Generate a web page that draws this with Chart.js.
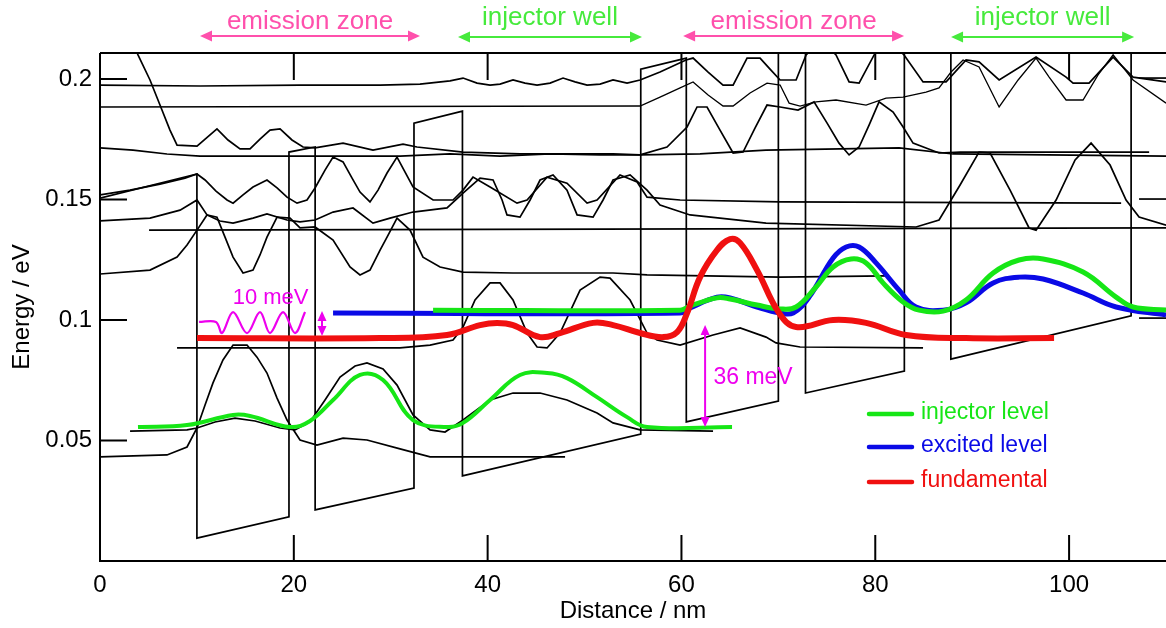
<!DOCTYPE html>
<html>
<head>
<meta charset="utf-8">
<title>Band diagram</title>
<script src="https://cdn.jsdelivr.net/npm/chart.js@4.4.1/dist/chart.umd.min.js"></script>
<style>
  html, body { margin: 0; padding: 0; background: #fff; }
  #wrap { width: 1166px; height: 628px; }
</style>
</head>
<body>
<div id="wrap"><canvas id="band" width="1166" height="628"></canvas></div>
<script>
// ── AXES ──
const X_MIN = 0, X_MAX = 110;
const Y_MIN = 0, Y_MAX = 0.2108;
const xTicks = [0, 20, 40, 60, 80, 100];
const yTicks = [0.05, 0.1, 0.15, 0.2];

// ── CONDUCTION BAND EDGE (nm, eV) ──
const bandEdge = [
  [0, 0.1506], [10.0, 0.1606], [10.0, 0.0095], [19.5, 0.0183], [19.5, 0.1697],
  [22.2, 0.1718], [22.2, 0.0212], [32.4, 0.0303], [32.4, 0.1817], [37.4, 0.1867],
  [37.4, 0.0353], [55.8, 0.0527], [55.8, 0.2041], [60.5, 0.2087], [60.5, 0.0577],
  [70.0, 0.0664], [70.0, 0.2174], [72.8, 0.2200], [72.8, 0.0697], [83.0, 0.0788],
  [83.0, 0.2298], [87.8, 0.2318], [87.8, 0.0838], [106.4, 0.1017], [106.4, 0.2527],
  [110, 0.2560]
];

// ── OTHER SUBBANDS (black) ──
const level197 = [
  [0, 0.1975], [10.32, 0.1971], [20.64, 0.1975], [28.90, 0.1975], [33.02, 0.1979],
  [36.12, 0.1992], [37.46, 0.2004], [38.91, 0.1983], [40.25, 0.1975], [41.28, 0.1979],
  [42.62, 0.1996], [43.86, 0.1983], [45.10, 0.1975], [46.44, 0.1983], [47.78, 0.2004],
  [49.02, 0.1988], [50.26, 0.1975], [51.60, 0.1979], [52.94, 0.1996], [54.39, 0.1983],
  [55.73, 0.1996], [57.79, 0.2029], [60.47, 0.2079], [61.20, 0.2087], [62.75, 0.2029],
  [64.29, 0.1975], [65.33, 0.1975], [66.77, 0.2087], [68.11, 0.2087], [69.14, 0.2041],
  [70.18, 0.1996], [71.83, 0.1996], [72.86, 0.2100], [74.41, 0.2162], [75.95, 0.2100],
  [77.30, 0.1988], [78.33, 0.1983], [79.88, 0.2100], [81.42, 0.2162], [82.97, 0.2100],
  [84.93, 0.1988], [87.31, 0.1988], [89.37, 0.2079], [90.71, 0.2071], [92.78, 0.1996],
  [96.59, 0.2091], [99.69, 0.2008], [100.41, 0.1983], [102.06, 0.1983], [104.54, 0.2091],
  [106.60, 0.2008], [110.01, 0.1988]
];
const level189 = [
  [0, 0.1884], [55.73, 0.1888], [57.79, 0.1925], [59.86, 0.1963], [61.20, 0.1988],
  [62.75, 0.1934], [64.29, 0.1888], [65.33, 0.1888], [67.08, 0.1942], [68.83, 0.1983],
  [70.18, 0.1975], [71.11, 0.1900], [72.24, 0.1888], [73.89, 0.1905], [75.95, 0.1913],
  [79.05, 0.1892], [81.11, 0.1921], [82.87, 0.1925], [85.24, 0.1946], [86.58, 0.1963],
  [87.82, 0.2029], [89.06, 0.2079], [90.71, 0.2050], [92.78, 0.1884], [94.74, 0.1996],
  [96.59, 0.2087], [97.94, 0.2008], [99.69, 0.1913], [101.44, 0.1913], [102.99, 0.2017],
  [104.54, 0.2100], [106.60, 0.1996], [110.01, 0.1900]
];
const level170 = [
  [3.51, 0.2141], [3.92, 0.2100], [5.16, 0.1996], [6.19, 0.1892], [7.22, 0.1788],
  [7.95, 0.1726], [10.01, 0.1722], [12.07, 0.1793], [13.21, 0.1747], [14.45, 0.1710],
  [15.48, 0.1710], [16.51, 0.1751], [17.54, 0.1788], [18.58, 0.1793], [19.81, 0.1747],
  [20.95, 0.1718], [22.19, 0.1714], [25.08, 0.1734], [28.17, 0.1705], [31.27, 0.1730],
  [32.71, 0.1718], [37.46, 0.1697], [43.34, 0.1689], [52.94, 0.1689], [55.73, 0.1685],
  [58.51, 0.1718], [60.58, 0.1801], [61.61, 0.1884], [62.64, 0.1884], [63.98, 0.1788],
  [65.33, 0.1693], [66.36, 0.1697], [67.60, 0.1797], [68.83, 0.1892], [70.18, 0.1884],
  [72.03, 0.1871], [73.68, 0.1905], [75.03, 0.1817], [76.26, 0.1734], [77.30, 0.1685],
  [78.33, 0.1718], [79.36, 0.1809], [80.39, 0.1905], [81.84, 0.1863], [82.87, 0.1801],
  [83.90, 0.1734], [86.58, 0.1693], [88.75, 0.1697], [108.26, 0.1697]
];
const level168 = [
  [0, 0.1714], [3.41, 0.1705], [6.91, 0.1689], [10.32, 0.1680], [20.64, 0.1680],
  [30.96, 0.1680], [36.12, 0.1689], [41.28, 0.1680], [46.44, 0.1689], [51.60, 0.1685],
  [55.73, 0.1685], [61.92, 0.1689], [68.73, 0.1705], [82.46, 0.1714], [88.03, 0.1689],
  [110.01, 0.1680]
];
const level149 = [
  [0, 0.1519], [3.10, 0.1539], [6.19, 0.1564], [8.77, 0.1589], [10.01, 0.1606],
  [10.84, 0.1581], [11.97, 0.1535], [13.11, 0.1498], [13.73, 0.1485], [14.76, 0.1519],
  [15.79, 0.1552], [17.23, 0.1581], [18.27, 0.1548], [19.30, 0.1510], [20.33, 0.1485],
  [21.36, 0.1498], [22.19, 0.1548], [23.22, 0.1622], [24.05, 0.1676], [25.08, 0.1656],
  [26.01, 0.1589], [26.83, 0.1531], [27.86, 0.1490], [28.69, 0.1539], [29.62, 0.1610],
  [30.65, 0.1676], [31.48, 0.1614], [32.30, 0.1552], [34.37, 0.1498], [36.43, 0.1498],
  [37.46, 0.1539], [38.49, 0.1593], [40.25, 0.1552], [43.03, 0.1485], [44.07, 0.1498],
  [46.13, 0.1593], [48.19, 0.1568], [50.26, 0.1485], [51.29, 0.1498], [53.66, 0.1602],
  [55.42, 0.1573], [56.45, 0.1510], [59.86, 0.1498], [70.18, 0.1490], [105.37, 0.1485]
];
const level140 = [
  [0, 0.1411], [5.16, 0.1423], [8.26, 0.1456], [10.01, 0.1498], [11.04, 0.1436],
  [12.38, 0.1411], [13.73, 0.1402], [15.79, 0.1423], [17.23, 0.1440], [19.30, 0.1415],
  [20.64, 0.1407], [22.19, 0.1415], [24.05, 0.1448], [26.11, 0.1465], [28.17, 0.1402],
  [29.93, 0.1423], [32.30, 0.1448], [35.81, 0.1465], [37.46, 0.1527], [39.22, 0.1589],
  [40.56, 0.1581], [41.49, 0.1498], [42.00, 0.1436], [43.34, 0.1427], [44.38, 0.1498],
  [45.41, 0.1581], [46.75, 0.1602], [48.19, 0.1539], [49.23, 0.1436], [50.88, 0.1427],
  [51.91, 0.1498], [52.94, 0.1581], [54.70, 0.1602], [56.45, 0.1539], [57.79, 0.1477],
  [60.89, 0.1436], [68.73, 0.1402], [84.21, 0.1386], [86.58, 0.1415], [88.75, 0.1560],
  [90.71, 0.1697], [91.85, 0.1693], [93.91, 0.1539], [95.87, 0.1382], [96.59, 0.1373],
  [98.66, 0.1498], [100.62, 0.1664], [102.27, 0.1734], [104.23, 0.1643], [105.88, 0.1498],
  [107.22, 0.1427], [110.01, 0.1394]
];
const level137 = [[5.06, 0.1373], [110.01, 0.1382]];
const level119 = [
  [0, 0.1191], [5.16, 0.1207], [7.95, 0.1261], [8.98, 0.1311], [10.01, 0.1373],
  [11.04, 0.1436], [12.07, 0.1427], [12.90, 0.1344], [13.73, 0.1261], [14.76, 0.1195],
  [15.79, 0.1207], [16.51, 0.1270], [17.23, 0.1344], [18.27, 0.1427], [19.61, 0.1423],
  [20.64, 0.1382], [22.19, 0.1386], [24.05, 0.1332], [25.80, 0.1220], [26.83, 0.1187],
  [27.86, 0.1207], [28.90, 0.1290], [29.62, 0.1344], [30.65, 0.1423], [31.99, 0.1373],
  [33.33, 0.1261], [35.09, 0.1220], [37.46, 0.1199], [42.62, 0.1195], [52.94, 0.1195],
  [56.45, 0.1187], [70.18, 0.1178], [81.11, 0.1183]
];
const level088 = [
  [7.95, 0.0884], [30.96, 0.0884], [34.06, 0.0896], [36.43, 0.0917], [37.46, 0.0971],
  [38.70, 0.1083], [40.25, 0.1154], [41.28, 0.1154], [42.62, 0.1083], [44.07, 0.0946],
  [45.10, 0.0888], [46.13, 0.0884], [47.47, 0.0946], [49.54, 0.1124], [51.60, 0.1178],
  [52.63, 0.1174], [54.70, 0.1083], [56.45, 0.0946], [57.48, 0.0917], [59.86, 0.0896],
  [63.26, 0.0938], [66.05, 0.0967], [68.73, 0.0929], [69.76, 0.0905], [72.24, 0.0888],
  [84.93, 0.0884]
];
const level054 = [
  [3.10, 0.0539], [8.98, 0.0544], [10.01, 0.0552], [11.87, 0.0577], [13.93, 0.0593],
  [16.00, 0.0581], [18.58, 0.0552], [20.12, 0.0544], [21.67, 0.0577], [23.22, 0.0668],
  [24.77, 0.0763], [26.32, 0.0809], [27.55, 0.0822], [29.21, 0.0797], [30.65, 0.0730],
  [32.30, 0.0606], [34.06, 0.0544], [35.60, 0.0535], [37.46, 0.0585], [40.25, 0.0668],
  [42.62, 0.0697], [45.41, 0.0697], [48.19, 0.0668], [51.29, 0.0614], [52.94, 0.0573],
  [55.73, 0.0544], [63.26, 0.0539]
];
const level043 = [
  [0, 0.0432], [6.91, 0.0440], [8.98, 0.0473], [10.01, 0.0552], [10.84, 0.0647],
  [11.66, 0.0739], [12.69, 0.0834], [13.73, 0.0896], [15.17, 0.0896], [16.20, 0.0846],
  [17.23, 0.0780], [18.27, 0.0676], [19.30, 0.0585], [20.64, 0.0502], [22.39, 0.0481],
  [25.08, 0.0510], [27.55, 0.0502], [30.96, 0.0465], [34.06, 0.0432], [47.99, 0.0432]
];
// next period, entering at the right edge
const nextTop = [[107.22, 0.2004], [110.01, 0.2004]];
const nextMid = [[107.22, 0.1502], [110.01, 0.1502]];
const nextLow = [[107.22, 0.1008], [110.01, 0.1008]];

// ── LASER LEVELS (coloured) ──
const injectorLow = [
  [3.92, 0.0556], [8.98, 0.0564], [13.73, 0.0606], [15.48, 0.0602], [19.61, 0.0556],
  [21.67, 0.0581], [24.05, 0.0668], [26.83, 0.0772], [29.21, 0.0751], [32.30, 0.0585],
  [35.81, 0.0556], [37.46, 0.0573], [40.25, 0.0668], [43.34, 0.0772], [46.13, 0.0780],
  [48.19, 0.0759], [51.29, 0.0680], [54.39, 0.0597], [56.45, 0.0556], [65.22, 0.0556]
];
const injectorHigh = [
  [34.37, 0.1041], [59.86, 0.1041], [60.89, 0.1058], [63.67, 0.1092], [65.02, 0.1087],
  [67.80, 0.1062], [70.18, 0.1046], [71.83, 0.1054], [73.89, 0.1137], [75.65, 0.1220],
  [77.50, 0.1253], [79.05, 0.1237], [80.80, 0.1154], [82.87, 0.1075], [84.52, 0.1041],
  [87.00, 0.1037], [89.37, 0.1083], [92.16, 0.1195], [94.84, 0.1249], [97.32, 0.1253],
  [101.44, 0.1199], [104.85, 0.1095], [106.60, 0.1054], [110.01, 0.1041]
];
const excited = [
  [24.05, 0.1029], [59.86, 0.1029], [60.89, 0.1050], [63.67, 0.1095], [65.02, 0.1092],
  [67.80, 0.1054], [70.18, 0.1029], [71.52, 0.1029], [73.17, 0.1095], [75.65, 0.1257],
  [76.99, 0.1303], [78.33, 0.1303], [80.08, 0.1237], [82.46, 0.1124], [84.21, 0.1054],
  [87.00, 0.1041], [89.37, 0.1071], [92.16, 0.1154], [94.84, 0.1178], [97.32, 0.1170],
  [101.44, 0.1112], [104.85, 0.1054], [110.01, 0.1021]
];
const fundamental = [
  [10.01, 0.0925], [28.90, 0.0925], [35.81, 0.0938], [39.22, 0.0979], [40.97, 0.0988],
  [42.62, 0.0979], [45.41, 0.0929], [47.47, 0.0946], [50.88, 0.0988], [52.94, 0.0979],
  [55.73, 0.0946], [58.10, 0.0929], [59.55, 0.0950], [60.58, 0.1029], [61.92, 0.1178],
  [63.67, 0.1290], [65.02, 0.1336], [66.05, 0.1320], [67.80, 0.1207], [70.07, 0.1029],
  [71.83, 0.0971], [75.65, 0.1000], [79.05, 0.0988], [83.18, 0.0938], [89.37, 0.0925],
  [98.45, 0.0925]
];

// ── PHOTON + SPACINGS ──
const photon = [
  [10.22, 0.0992], [11.97, 0.0992], [12.59, 0.0946], [13.73, 0.1033], [15.17, 0.0946],
  [16.51, 0.1033], [17.54, 0.0946], [18.89, 0.1033], [20.12, 0.0946], [21.16, 0.1033]
];
const gap10 = { x: 22.91, from: 0.1037, to: 0.0934, text: "10 meV", tx: 17.6, ty: 0.1100 };
const gap36 = { x: 62.44, from: 0.0979, to: 0.0556, text: "36 meV", tx: 63.3, ty: 0.0768 };

// ── ZONES ABOVE THE PLOT ──
const zoneLabels = ["emission zone", "injector well", "emission zone", "injector well"];
const zoneStart  = [10.32, 36.94, 60.17, 87.82];
const zoneEnd    = [33.02, 55.93, 82.97, 106.71];

const PINK    = "#ff50ac";
const LIME    = "#46ea3c";
const MAGENTA = "#ee00ee";
const GREEN   = "#16e616";
const BLUE    = "#0a0ae6";
const RED     = "#f01010";

const legendItems = [
  { text: "injector level", color: GREEN, y: 414 },
  { text: "excited level",  color: BLUE,  y: 447 },
  { text: "fundamental",    color: RED,   y: 482 }
];

Chart.defaults.font.family = "'Liberation Sans', Arial, sans-serif";
Chart.defaults.color = "#000";

const pts = arr => arr.map(p => ({ x: p[0], y: p[1] }));

function blackLine(data, width) {
  return {
    data: pts(data), borderColor: "#000", borderWidth: width || 1.7,
    pointRadius: 0, tension: 0, showLine: true, order: 10, clip: 0
  };
}
function colourLine(data, color, width, order) {
  return {
    data: pts(data), borderColor: color, borderWidth: width,
    pointRadius: 0, tension: 0.4, showLine: true, order: order, clip: 0,
    borderCapStyle: "butt", borderJoinStyle: "round"
  };
}

function head(ctx, x, y, dx, dy, len, half) {
  const nx = -dy, ny = dx;
  ctx.beginPath();
  ctx.moveTo(x, y);
  ctx.lineTo(x - dx * len + nx * half, y - dy * len + ny * half);
  ctx.lineTo(x - dx * len - nx * half, y - dy * len - ny * half);
  ctx.closePath();
  ctx.fill();
}

// frame with inward ticks + annotations
const decorations = {
  id: "decorations",
  afterDatasetsDraw(chart) {
    const { ctx, chartArea: a, scales: { x, y } } = chart;
    ctx.save();
    ctx.strokeStyle = "#000";
    ctx.lineWidth = 2;
    ctx.lineCap = "butt";
    ctx.beginPath();
    ctx.moveTo(a.left, a.top); ctx.lineTo(a.right, a.top);
    ctx.moveTo(a.left, a.top); ctx.lineTo(a.left, a.bottom);
    ctx.moveTo(a.left - 1, a.bottom); ctx.lineTo(a.right, a.bottom);
    xTicks.forEach(v => {
      if (v === X_MIN) return;
      const px = x.getPixelForValue(v);
      ctx.moveTo(px, a.bottom); ctx.lineTo(px, a.bottom - 26);
      ctx.moveTo(px, a.top); ctx.lineTo(px, a.top + 27);
    });
    yTicks.forEach(v => {
      const py = y.getPixelForValue(v);
      ctx.moveTo(a.left, py); ctx.lineTo(a.left + 27, py);
    });
    ctx.stroke();

    // spacing arrows
    ctx.strokeStyle = MAGENTA;
    ctx.fillStyle = MAGENTA;
    ctx.lineWidth = 2;
    [gap10, gap36].forEach(g => {
      const px = x.getPixelForValue(g.x);
      const y1 = y.getPixelForValue(g.from), y2 = y.getPixelForValue(g.to);
      ctx.beginPath();
      ctx.moveTo(px, y1 + 8); ctx.lineTo(px, y2 - 8);
      ctx.stroke();
      head(ctx, px, y1, 0, -1, 10, 4.5);
      head(ctx, px, y2, 0, 1, 10, 4.5);
    });
    ctx.font = "22px 'Liberation Sans', Arial, sans-serif";
    ctx.textBaseline = "alphabetic";
    ctx.textAlign = "center";
    ctx.fillText(gap10.text, x.getPixelForValue(gap10.tx), y.getPixelForValue(gap10.ty) + 8);
    ctx.font = "23px 'Liberation Sans', Arial, sans-serif";
    ctx.textAlign = "left";
    ctx.fillText(gap36.text, x.getPixelForValue(gap36.tx), y.getPixelForValue(gap36.ty) + 8);

    // zones along the top
    ctx.font = "26px 'Liberation Sans', Arial, sans-serif";
    ctx.textAlign = "center";
    ctx.lineWidth = 2;
    zoneLabels.forEach((label, i) => {
      const emission = label.startsWith("emission");
      const col = emission ? PINK : LIME;
      const x1 = x.getPixelForValue(zoneStart[i]);
      const x2 = x.getPixelForValue(zoneEnd[i]);
      const ay = emission ? 36 : 37;
      ctx.fillStyle = col;
      ctx.strokeStyle = col;
      ctx.fillText(label, (x1 + x2) / 2, emission ? 29 : 25);
      ctx.beginPath();
      ctx.moveTo(x1 + 8, ay); ctx.lineTo(x2 - 8, ay);
      ctx.stroke();
      head(ctx, x1, ay, -1, 0, 12, 5.5);
      head(ctx, x2, ay, 1, 0, 12, 5.5);
    });

    // legend
    ctx.font = "23px 'Liberation Sans', Arial, sans-serif";
    ctx.textAlign = "left";
    ctx.textBaseline = "middle";
    legendItems.forEach(it => {
      ctx.strokeStyle = it.color;
      ctx.fillStyle = it.color;
      ctx.lineWidth = 4.5;
      ctx.lineCap = "round";
      ctx.beginPath();
      ctx.moveTo(869, it.y); ctx.lineTo(912, it.y);
      ctx.stroke();
      ctx.fillText(it.text, 921, it.y - 1);
    });
    ctx.restore();
  }
};

const ctx = document.getElementById("band").getContext("2d");
new Chart(ctx, {
  type: "scatter",
  data: {
    datasets: [
      colourLine(fundamental, RED, 6, 0),
      colourLine(injectorHigh, GREEN, 5, 1),
      colourLine(excited, BLUE, 5, 2),
      colourLine(injectorLow, GREEN, 4, 3),
      { ...colourLine(photon, MAGENTA, 2.2, 4), tension: 0.35 },
      blackLine(bandEdge, 1.7),
      blackLine(level197), blackLine(level189, 1.3), blackLine(level170),
      blackLine(level168), blackLine(level149), blackLine(level140),
      blackLine(level137), blackLine(level119), blackLine(level088),
      blackLine(level054), blackLine(level043),
      blackLine(nextTop), blackLine(nextMid), blackLine(nextLow)
    ]
  },
  options: {
    responsive: false,
    animation: false,
    devicePixelRatio: 1,
    layout: { padding: { top: 53, right: 0, left: 0, bottom: 0 } },
    plugins: { legend: { display: false }, tooltip: { enabled: false } },
    scales: {
      x: {
        type: "linear", min: X_MIN, max: X_MAX,
        afterBuildTicks: s => { s.ticks = xTicks.map(v => ({ value: v })); },
        afterFit: s => { s.height = 67; },
        grid: { display: false, drawTicks: false },
        border: { display: false },
        ticks: { font: { size: 24 }, color: "#000", padding: 10, maxRotation: 0, callback: v => String(v) },
        title: { display: true, text: "Distance / nm", font: { size: 24 }, color: "#000", padding: { top: 0, bottom: 2 } }
      },
      y: {
        type: "linear", min: Y_MIN, max: Y_MAX,
        afterBuildTicks: s => { s.ticks = yTicks.map(v => ({ value: v })); },
        afterFit: s => { s.width = 100; },
        grid: { display: false, drawTicks: false },
        border: { display: false },
        ticks: { font: { size: 24 }, color: "#000", padding: 8, callback: v => String(v) },
        title: { display: true, text: "Energy / eV", font: { size: 24 }, color: "#000", padding: { top: 8, bottom: 0 } }
      }
    }
  },
  plugins: [decorations]
});
</script>
</body>
</html>
